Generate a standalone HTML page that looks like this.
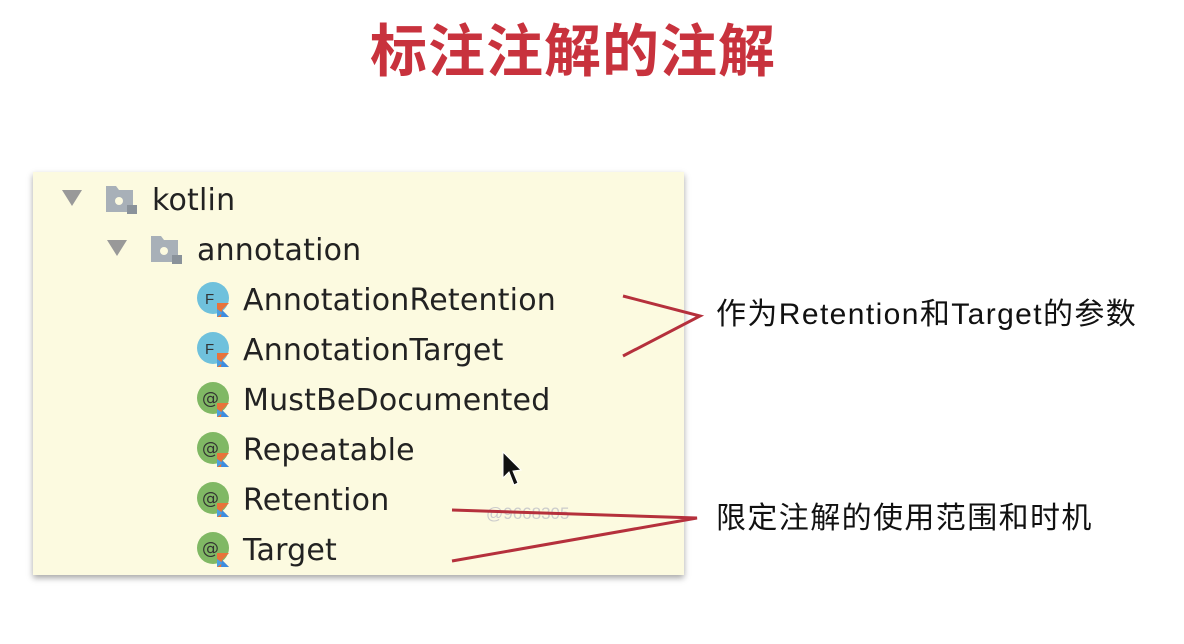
<!DOCTYPE html>
<html><head><meta charset="utf-8"><style>
body{margin:0;width:1184px;height:644px;background:#fff;position:relative;overflow:hidden;font-family:"Liberation Sans","Noto Sans CJK SC",sans-serif}
.title{position:absolute;left:370px;top:6px;font-size:57px;font-weight:bold;color:#c8323d;font-family:"Noto Sans CJK SC",sans-serif;letter-spacing:1px;white-space:nowrap}
.panel{position:absolute;left:33px;top:172px;width:651px;height:403px;background:#fcfae0;box-shadow:0 3px 6px rgba(0,0,0,.35)}
.t{position:absolute;font-size:30px;color:#222;line-height:1;font-family:"DejaVu Sans",sans-serif;letter-spacing:0.2px}
.lab{position:absolute;font-size:30px;color:#111;font-family:"Liberation Sans","Noto Sans CJK SC",sans-serif;line-height:1;white-space:nowrap;letter-spacing:1.4px}
</style></head><body>
<div class="title">标注注解的注解</div>
<div class="panel"></div>
<svg width="1184" height="644" style="position:absolute;left:0;top:0">
<defs>
<g id="k"><polygon points="0,0 12,0 5,7 12,14 0,14" fill="#e8733a"/><polygon points="0,14 0,6 6,10" fill="#4aa0e0"/><polygon points="5,7 12,14 4,14" fill="#3c8ce0"/></g>
</defs>
<polygon points="62,190 82,190 72,206" fill="#999"/>
<polygon points="107,240 127,240 117,256" fill="#999"/>
<g fill="#a8b0b8"><path d="M106,186h10l3,4h14v22h-27z"/><path d="M151,236h10l3,4h14v22h-27z"/></g>
<g fill="#fcfae0"><circle cx="119" cy="201" r="4"/><circle cx="164" cy="251" r="4"/></g>
<g fill="#8a929a"><rect x="127" y="205" width="10" height="9"/><rect x="172" y="255" width="10" height="9"/></g>
<g fill="#6fc1dc"><circle cx="213" cy="298" r="16"/><circle cx="213" cy="348" r="16"/></g>
<g font-size="15" font-family="Liberation Sans" fill="#333"><text x="205" y="304">F</text><text x="205" y="354">F</text></g>
<g fill="#80b864"><circle cx="213" cy="398" r="16"/><circle cx="213" cy="448" r="16"/><circle cx="213" cy="498" r="16"/><circle cx="213" cy="548" r="16"/></g>
<g font-size="17" font-family="DejaVu Sans" fill="#333"><text x="202" y="404">@</text><text x="202" y="454">@</text><text x="202" y="504">@</text><text x="202" y="554">@</text></g>
<use href="#k" x="217" y="303"/><use href="#k" x="217" y="353"/><use href="#k" x="217" y="403"/><use href="#k" x="217" y="453"/><use href="#k" x="217" y="503"/><use href="#k" x="217" y="553"/>
<polygon points="503,452 503,478 509,472 514,485 518,483 513,471 521,470" fill="#111" stroke="#fff" stroke-width="1"/>
<text x="486" y="519" font-size="17" fill="#ccc" font-family="Liberation Sans">@9668305</text>
<g stroke="#b5303c" stroke-width="3" fill="none">
<polyline points="623,296 700,316 623,356"/>
<polyline points="452,510 697,518 452,561"/>
</g>
</svg>
<div class="t" style="left:152px;top:186px">kotlin</div>
<div class="t" style="left:197px;top:236px">annotation</div>
<div class="t" style="left:243px;top:286px">AnnotationRetention</div>
<div class="t" style="left:243px;top:336px">AnnotationTarget</div>
<div class="t" style="left:243px;top:386px">MustBeDocumented</div>
<div class="t" style="left:243px;top:436px">Repeatable</div>
<div class="t" style="left:243px;top:486px">Retention</div>
<div class="t" style="left:243px;top:536px">Target</div>
<div class="lab" style="left:716px;top:300px">作为Retention和Target的参数</div>
<div class="lab" style="left:716px;top:504px">限定注解的使用范围和时机</div>
</body></html>
